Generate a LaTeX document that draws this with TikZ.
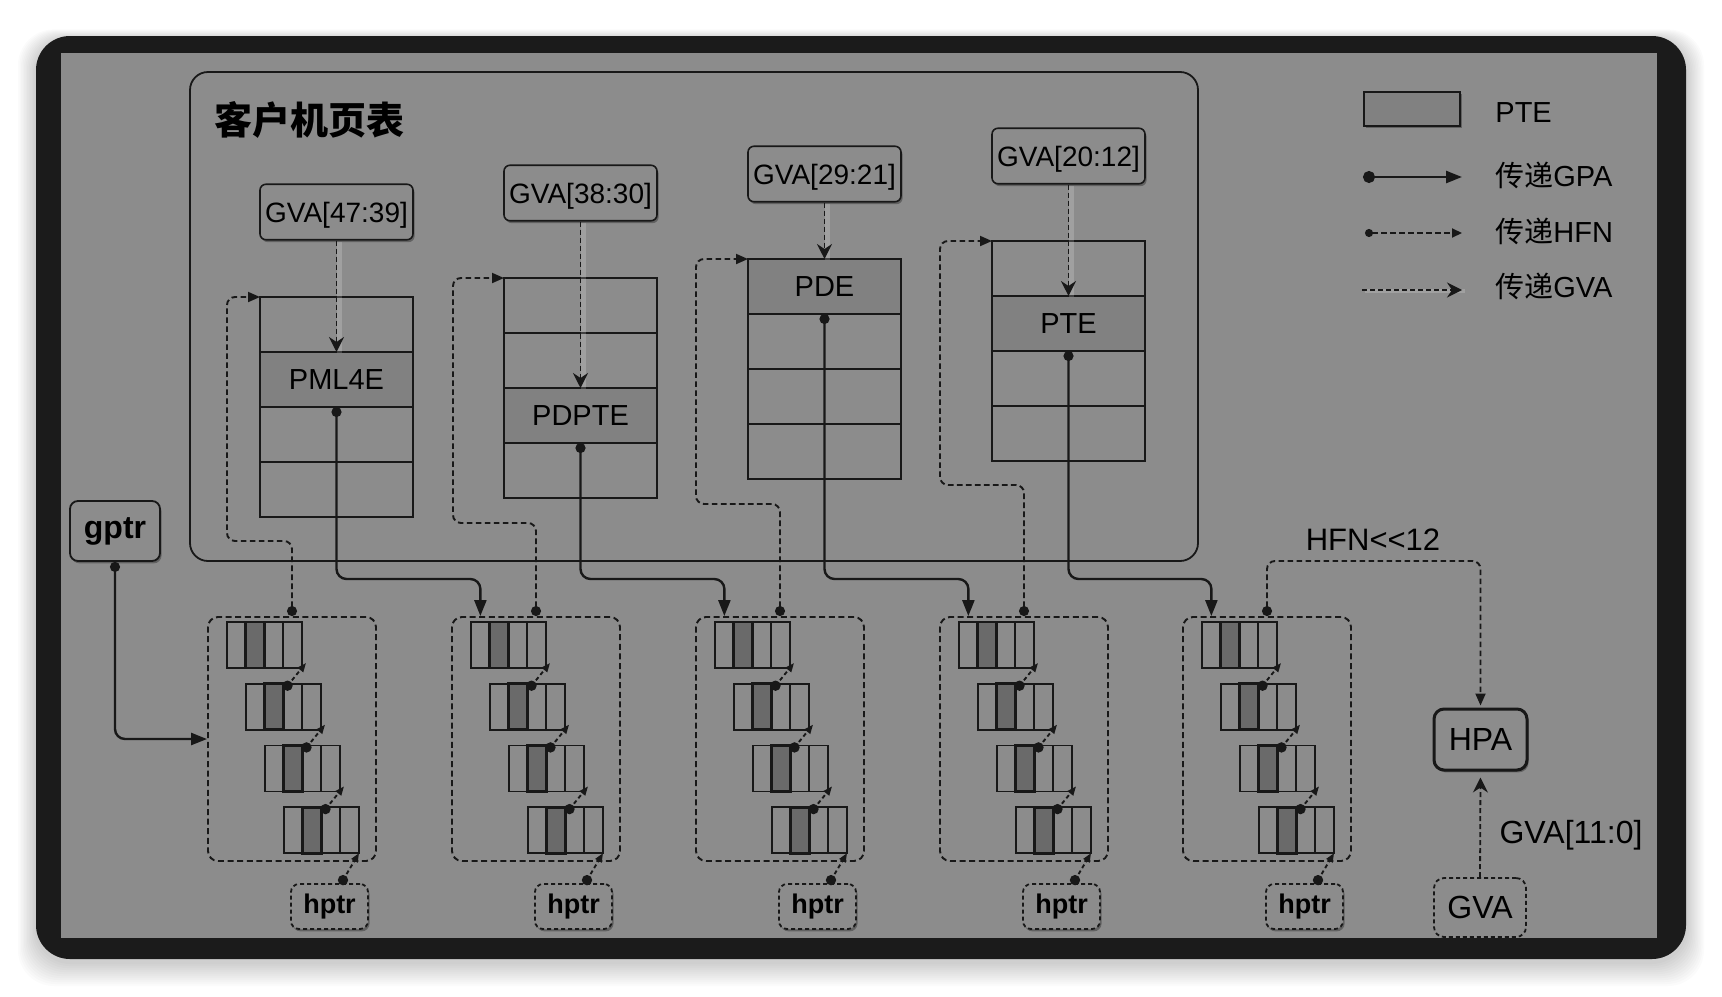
\documentclass[tikz,border=0pt]{standalone}
\usepackage{fontspec}
\setmainfont{Liberation Sans}
\newfontfamily\cjk{Noto Sans CJK SC}
\usetikzlibrary{arrows.meta,shadows,calc}
\definecolor{bgg}{RGB}{140,140,140}
\definecolor{framec}{RGB}{27,27,27}
\definecolor{linec}{RGB}{24,24,24}
\definecolor{hlc}{RGB}{129,129,129}
\definecolor{darkc}{RGB}{106,106,106}
\newcommand\myfs[1]{\fontsize{#1}{#1}\selectfont}
\tikzset{
 myshadow/.style={drop shadow={shadow xshift=0.8pt,shadow yshift=-1.2pt,opacity=0.3,fill=black}},
 rowbox/.style={draw=linec,line width=1.4pt,minimum width=76.5pt,minimum height=27.5pt,inner sep=0pt,outer sep=0pt,font=\myfs{14.5pt},text depth=0pt},
 hlrow/.style={fill=hlc},
 gvalab/.style={draw=linec,line width=0.8pt,rounded corners=3pt,fill=bgg,minimum width=76.5pt,minimum height=27.75pt,inner sep=0pt,font=\myfs{14pt},text depth=0pt,myshadow},
 gvashadow/.style={preaction={draw=white,opacity=0.18,line width=2.4pt,solid,arrows=-,transform canvas={xshift=1.3pt,yshift=-0.5pt}}},
 gvaar/.style={draw=linec,line width=0.9pt,dash pattern=on 2.5pt off 1.5pt,-{Stealth[length=7.5pt,width=7.5pt,inset=2.5pt]}},
 gpa/.style={draw=linec,line width=1.2pt,rounded corners=5pt,{Circle[length=5pt]}-{Triangle[length=8pt,width=6pt]}},
 hfn/.style={draw=linec,line width=0.95pt,dash pattern=on 2.8pt off 1.7pt,rounded corners=4pt,{Circle[length=5pt]}-{Triangle[length=6pt,width=5pt]}},
 grpbox/.style={draw=linec,line width=0.95pt,dash pattern=on 3pt off 1.8pt,rounded corners=5pt,minimum width=84pt,minimum height=122pt,inner sep=0pt},
 cell/.style={draw=linec,line width=0.9pt,minimum width=9.375pt,minimum height=23pt,inner sep=0pt,outer sep=0pt},
 dcell/.style={cell,fill=darkc,line width=1.4pt},
 inar/.style={draw=linec,line width=0.95pt,dash pattern=on 2pt off 1.5pt,-{Triangle[length=4.5pt,width=3.5pt]}},
 hptrbox/.style={draw=linec,line width=0.9pt,dash pattern=on 2pt off 1.5pt,rounded corners=4pt,fill=bgg,minimum width=38.5pt,minimum height=22.5pt,inner sep=0pt,font=\bfseries\myfs{13.5pt},myshadow},
 gptrbox/.style={draw=linec,line width=0.9pt,rounded corners=4pt,fill=bgg,minimum width=45pt,minimum height=30pt,inner sep=0pt,font=\bfseries\myfs{16pt},myshadow},
 hpabox/.style={draw=linec,line width=1.5pt,rounded corners=5pt,fill=bgg,minimum width=46.5pt,minimum height=30.5pt,inner sep=0pt,font=\myfs{16pt},text depth=0pt,myshadow},
 gvabox/.style={draw=linec,line width=0.9pt,dash pattern=on 2pt off 1.5pt,rounded corners=5pt,minimum width=46pt,minimum height=29.5pt,inner sep=0pt,font=\myfs{16pt},text depth=0pt},
 container/.style={draw=linec,line width=0.9pt,rounded corners=9pt,minimum width=504pt,minimum height=244.5pt,inner sep=0pt},
 txt/.style={inner sep=0pt,font=\myfs{14.5pt}},
 ptebox/.style={draw=linec,line width=1.4pt,fill=hlc,minimum width=48pt,minimum height=17pt,inner sep=0pt,myshadow}
}
\begin{document}
\begin{tikzpicture}[x=0.5pt,y=-0.5pt]
\useasboundingbox (0,0) rectangle (1722,996);
\fill[white] (0,0) rectangle (1722,996);
% soft shadow of the frame
\foreach \k in {1,...,12}{
  \fill[black,opacity=0.015,rounded corners=18pt] ({36-1.5*\k},{39-0.8*\k}) rectangle ({1686+1.5*\k},{962+2*\k});
}
\fill[framec,rounded corners=17pt] (36,36) rectangle (1686,959);
\fill[bgg] (61,53) rectangle (1657,938);

% guest page table container
\node[container] (gpt) at (694,316.5) {};
\node[anchor=west,inner sep=0pt] (title) at (214,120) {\cjk\bfseries\myfs{19pt}客户机页表};

% page tables
\foreach \tn/\cx/\ty/\hr/\lab/\glab in {1/336.5/297/2/PML4E/{GVA[47:39]},2/580.5/278/3/PDPTE/{GVA[38:30]},3/824.5/259/1/PDE/{GVA[29:21]},4/1068.5/241/2/PTE/{GVA[20:12]}}{
  \foreach \rn in {1,...,4}{
    \pgfmathsetmacro\cy{\ty+27.5+55*(\rn-1)}
    \ifnum\rn=\hr
      \node[rowbox,hlrow] (t\tn r\rn) at (\cx,\cy) {\lab};
    \else
      \node[rowbox] (t\tn r\rn) at (\cx,\cy) {};
    \fi
  }
  \pgfmathsetmacro\ly{\ty-85}
  \node[gvalab] (gva\tn) at (\cx,\ly) {\glab};
  \draw[gvaar,gvashadow] (gva\tn.south) -- (t\tn r\hr.north);
}

% EPT groups
\foreach \gn/\gx in {1/208,2/452,3/696,4/940,5/1183}{
  \node[grpbox] (grp\gn) at ({\gx+84},739) {};
  \foreach \rn in {1,...,4}{
    \pgfmathsetmacro\ry{622+61.7*(\rn-1)+23}
    \foreach \cn in {1,3,4,2}{
      \pgfmathsetmacro\cxx{\gx+19+19*(\rn-1)+18.75*(\cn-0.5)}
      \ifnum\cn=2
        \node[dcell] (g\gn r\rn c\cn) at (\cxx,\ry) {};
      \else
        \node[cell] (g\gn r\rn c\cn) at (\cxx,\ry) {};
      \fi
    }
  }
  \node[hptrbox] (hp\gn) at ({\gx+121.5},906.5) {hptr};
  \foreach \rn in {2,3,4}{
    \pgfmathtruncatemacro\rp{\rn-1}
    \coordinate (d\gn r\rn) at ($(g\gn r\rn c2.north east)+(4,2)$);
    \draw[inar] (d\gn r\rn) -- ($(g\gn r\rp c4.south east)+(4,-5)$);
    \fill[linec] (d\gn r\rn) circle[radius=2.6pt];
  }
  \coordinate (dh\gn) at ($(hp\gn.north)+(13.5,-3)$);
  \draw[inar] (dh\gn) -- (g\gn r4c4.south east);
  \fill[linec] (dh\gn) circle[radius=2.6pt];
}

% GPA connectors
\coordinate (hy) at (0,579);
\foreach \tn/\hr in {1/2,2/3,3/1,4/2}{
  \pgfmathtruncatemacro\nx{\tn+1}
  \draw[gpa] (t\tn r\hr.south) -- (t\tn r\hr.south |- hy) -| (g\nx r1c1.north |- grp\nx.north);
}

% HFN connectors
\foreach \tn/\hx/\hyy in {1/227/541,2/453/523,3/696/504,4/940/485}{
  \coordinate (hc\tn) at (\hx,\hyy);
  \draw[hfn] (grp\tn.north) |- (hc\tn) |- (t\tn r1.north west);
}

% gptr
\node[gptrbox] (gptr) at (115,531) {gptr};
\draw[gpa] (gptr.south) |- (grp1.west);

% HPA and GVA
\node[hpabox] (hpa) at (1480.5,739.5) {HPA};
\node[gvabox] (gvab) at (1480,907.5) {GVA};
\coordinate (hc5) at (1480.5,561);
\draw[hfn,shorten >=1pt] (grp5.north) |- (hc5) -- (hpa.north);
\node[txt,font=\myfs{15.5pt}] (hfnlab) at (1373,540) {HFN<{}<12};
\draw[gvaar,shorten >=3pt] (gvab.north) -- (hpa.south);
\node[txt,font=\myfs{16pt}] (gva11) at (1571,835) {GVA[11:0]};

% legend
\node[ptebox] (legpte) at (1412,109) {};
\node[txt,anchor=base west] (legptet) at (1495,122) {PTE};
\coordinate (lg1a) at (1363,177); \coordinate (lg1b) at (1462,177);
\draw[gpa,{Circle[length=6pt]}-{Triangle[length=8pt,width=6pt]}] (lg1a) -- (lg1b);
\node[txt,anchor=base west] (leg1t) at (1495,186) {{\cjk 传递}GPA};
\coordinate (lg2a) at (1365,233); \coordinate (lg2b) at (1462,233);
\draw[hfn,{Circle[length=4pt]}-{Triangle[length=5pt,width=4.5pt]}] (lg2a) -- (lg2b);
\node[txt,anchor=base west] (leg2t) at (1495,242) {{\cjk 传递}HFN};
\coordinate (lg3a) at (1362,290); \coordinate (lg3b) at (1462,290);
\draw[gvaar,gvashadow] (lg3a) -- (lg3b);
\node[txt,anchor=base west] (leg3t) at (1495,297) {{\cjk 传递}GVA};
\end{tikzpicture}
\end{document}
